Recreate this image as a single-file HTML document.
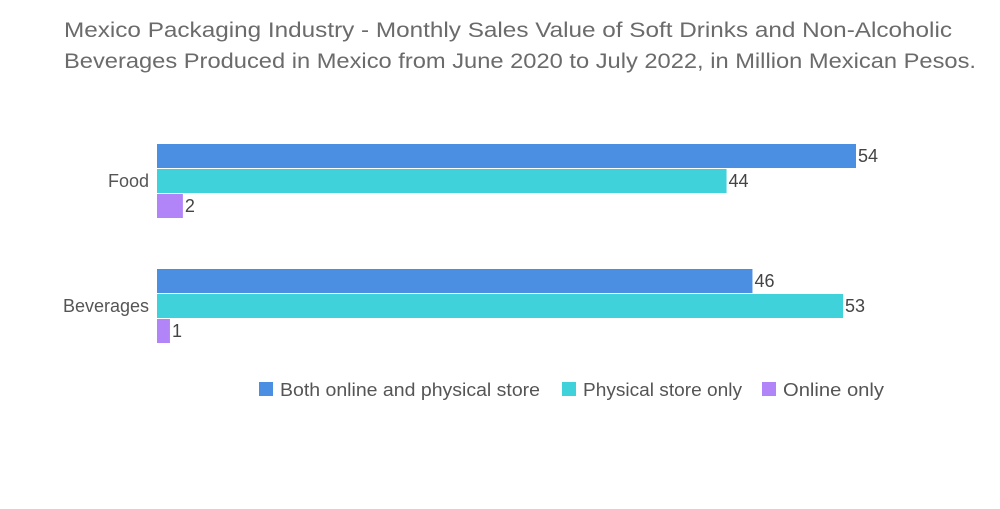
<!DOCTYPE html>
<html><head><meta charset="utf-8"><style>
body{margin:0;background:#fff;width:1000px;height:504px;overflow:hidden;font-family:"Liberation Sans",sans-serif;}
</style></head><body>
<svg width="1000" height="504" xmlns="http://www.w3.org/2000/svg">
<g fill="#6b6b6b" font-size="21" text-anchor="middle" font-family="Liberation Sans, sans-serif">
<text x="508" y="37" textLength="888" lengthAdjust="spacingAndGlyphs">Mexico Packaging Industry - Monthly Sales Value of Soft Drinks and Non-Alcoholic</text>
<text x="520" y="68" textLength="912" lengthAdjust="spacingAndGlyphs">Beverages Produced in Mexico from June 2020 to July 2022, in Million Mexican Pesos.</text>
</g>
<g id="bars"></g>
<g id="legend" font-size="18" fill="#555"></g>
</svg>
<script>
const categories=["Food","Beverages"];
const seriesNames=["Both online and physical store","Physical store only","Online only"];
const bothVals=[54,46];
const physVals=[44,53];
const onlineVals=[2,1];
const colors=["#4a8fe2","#3fd2db","#b185f7"];
const series=[bothVals,physVals,onlineVals];
const ns="http://www.w3.org/2000/svg";
const x0=157,pxPer=(856-157)/54;
const xs=v=>x0+v*pxPer;
const catTop=[144,269],barH=24,gap=1;
const g=document.getElementById('bars');
categories.forEach((c,ci)=>{
  const t=document.createElementNS(ns,'text');
  
  
  t.setAttribute('x',149);t.setAttribute('y',catTop[ci]+37+6);
  t.setAttribute('text-anchor','end');t.setAttribute('font-size','18');t.setAttribute('fill','#555');
  t.textContent=c;g.appendChild(t);
  series.forEach((s,si)=>{
    const y=catTop[ci]+si*(barH+gap);
    const r=document.createElementNS(ns,'rect');
    
    
    r.setAttribute('x',x0);r.setAttribute('y',y);r.setAttribute('width',xs(s[ci])-x0);r.setAttribute('height',barH);
    r.setAttribute('fill',colors[si]);g.appendChild(r);
    const l=document.createElementNS(ns,'text');
    
    
    l.setAttribute('x',xs(s[ci])+2);l.setAttribute('y',y+18);
    l.setAttribute('font-size','18');l.setAttribute('fill','#444');
    l.textContent=s[ci];g.appendChild(l);
  });
});
const lg=document.getElementById('legend');
const lx=[259,562,762];
const lw=[260,159,101];
seriesNames.forEach((n,i)=>{
  const r=document.createElementNS(ns,'rect');
  
  
  r.setAttribute('x',lx[i]);r.setAttribute('y',382);r.setAttribute('width',14);r.setAttribute('height',14);
  r.setAttribute('fill',colors[i]);lg.appendChild(r);
  const t=document.createElementNS(ns,'text');
  
  
  t.setAttribute('x',lx[i]+21);t.setAttribute('y',396);
  t.setAttribute('textLength',lw[i]);t.setAttribute('lengthAdjust','spacingAndGlyphs');
  t.textContent=n;lg.appendChild(t);
});
</script>
</body></html>
